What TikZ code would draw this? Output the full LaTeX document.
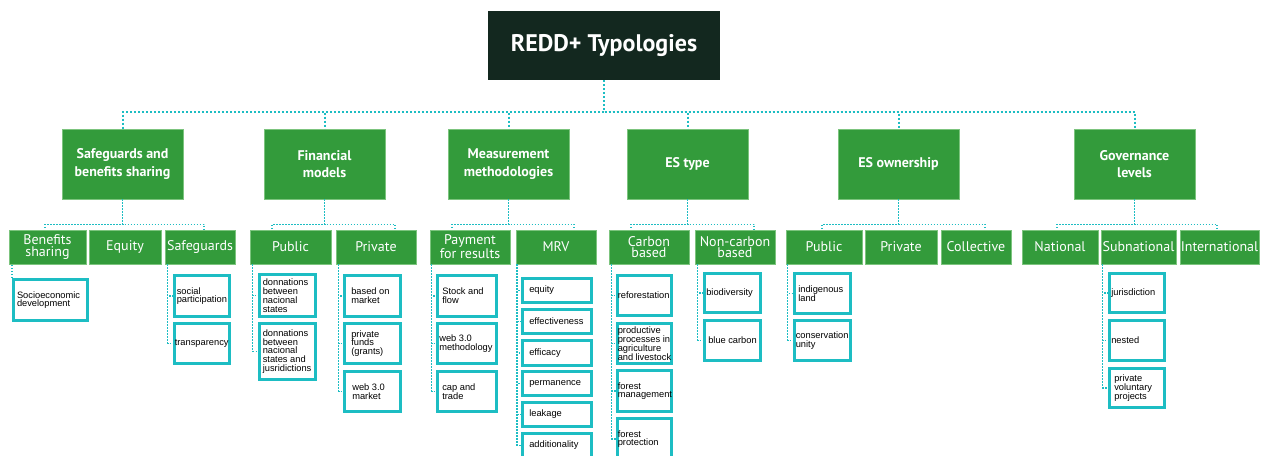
\documentclass[tikz,border=0pt]{standalone}
\usepackage{fontspec}
\setmainfont{Liberation Sans}
\newfontfamily\headfont{PT Sans}
\usetikzlibrary{calc}

\definecolor{rootbg}{HTML}{13281F}
\definecolor{catgreen}{HTML}{339B3B}
\definecolor{edgegreen}{HTML}{7CC47E}
\definecolor{linkteal}{HTML}{1DBDC3}

\tikzset{
  rootbox/.style={fill=rootbg, text=white, inner sep=0pt,
    font=\headfont\bfseries\fontsize{24}{28}\selectfont},
  catbox/.style={fill=catgreen, draw=edgegreen, line width=0.6pt, text=white,
    align=center, inner sep=0pt,
    font=\headfont\bfseries\fontsize{14}{17.3}\selectfont},
  subbox/.style={fill=catgreen, draw=edgegreen, line width=0.6pt, text=white,
    align=center, inner sep=0pt,
    font=\headfont\fontsize{14}{11.5}\selectfont},
  leaf/.style={draw=linkteal, line width=2.6pt, fill=white, align=flush left,
    inner ysep=0pt, font=\fontsize{9.3}{8.8}\selectfont},
  bus/.style={draw=linkteal, line width=2pt, dash pattern=on 2pt off 2pt},
  sub/.style={draw=linkteal, line width=1.5pt, dash pattern=on 1.5pt off 1.5pt},
}

% centred block of lines, moved down by #1
\newcommand\lowered[2]{\raisebox{-#1}{\parbox{116pt}{\centering #2}}}

% box from its outer corners: style, name, x1, y1, x2, y2, text
\newcommand\cornerbox[7]{%
  \pgfmathsetmacro\bxw{#5-#3}%
  \pgfmathsetmacro\bxh{#6-#4}%
  \pgfmathsetmacro\bxx{(#3+#5)/2}%
  \pgfmathsetmacro\bxy{(#4+#6)/2}%
  \node[#1, minimum width=\bxw pt, minimum height=\bxh pt] (#2) at (\bxx,\bxy) {#7};%
}
% framed leaf with left-aligned text: name, x1, y1, x2, y2, left padding, text
\newcommand\leafnode[7]{%
  \pgfmathsetmacro\lfw{#4-#2-2.6-2*#6}%
  \pgfmathsetmacro\lfh{#5-#3-2.6}%
  \pgfmathsetmacro\lfx{(#2+#4)/2}%
  \pgfmathsetmacro\lfy{(#3+#5)/2}%
  \node[leaf, text width=\lfw pt, inner xsep=#6pt, minimum height=\lfh pt] (#1) at (\lfx,\lfy) {#7};%
}

\begin{document}
\begin{tikzpicture}[x=1pt, y=-1pt]
\useasboundingbox (0,0) rectangle (1263,455);
\clip (0,0) rectangle (1263,455);

% root
\cornerbox{rootbox}{root}{488}{11}{720}{80}{\raisebox{-5pt}{REDD+ Typologies}}

% categories
\cornerbox{catbox}{sg}{62}{129}{183}{199}{\lowered{3pt}{Safeguards and\\benefits sharing}}
\cornerbox{catbox}{fm}{264}{129}{385}{199}{\lowered{4pt}{Financial\\models}}
\cornerbox{catbox}{mm}{448}{129}{569}{199}{\lowered{4pt}{Measurement\\methodologies}}
\cornerbox{catbox}{est}{627}{129}{748}{199}{ES type}
\cornerbox{catbox}{eso}{838}{129}{959}{199}{\raisebox{4pt}{ES ownership}}
\cornerbox{catbox}{gov}{1074}{129}{1195}{199}{\lowered{4pt}{Governance\\levels}}

% sub-categories
\cornerbox{subbox}{ben}{9}{230}{86}{264}{Benefits\\sharing}
\cornerbox{subbox}{equ}{89}{230}{161}{264}{\raisebox{-2pt}{Equity}}
\cornerbox{subbox}{safe}{165}{230}{235}{264}{\raisebox{-2pt}{Safeguards}}
\cornerbox{subbox}{pubf}{250}{230}{331}{264}{\raisebox{-2pt}{Public}}
\cornerbox{subbox}{privf}{336}{230}{416}{264}{\raisebox{-2pt}{Private}}
\cornerbox{subbox}{pay}{430}{230}{510}{264}{Payment\\for results}
\cornerbox{subbox}{mrv}{516}{230}{596}{264}{\raisebox{-2pt}{MRV}}
\cornerbox{subbox}{carb}{609}{230}{689}{264}{Carbon\\based}
\cornerbox{subbox}{ncarb}{695}{230}{775}{264}{Non-carbon\\based}
\cornerbox{subbox}{pubo}{786}{230}{862}{264}{\raisebox{-2pt}{Public}}
\cornerbox{subbox}{privo}{865}{230}{937}{264}{\raisebox{-2pt}{Private}}
\cornerbox{subbox}{coll}{941}{230}{1011}{264}{\raisebox{-2pt}{Collective}}
\cornerbox{subbox}{nat}{1022}{230}{1098}{264}{\raisebox{-2pt}{National}}
\cornerbox{subbox}{subn}{1101}{230}{1176}{264}{\raisebox{-2pt}{Subnational}}
\cornerbox{subbox}{intl}{1180}{230}{1259}{264}{\raisebox{-2pt}{International}}

% leaves (~ keeps each printed line whole)
\leafnode{soc}{12}{278}{89}{322}{3.7}{Socioeconomic\\development}
\leafnode{spart}{173}{274}{231}{318}{2.5}{social\\participation}
\leafnode{transp}{173}{322}{231}{365}{0.5}{transparency}

\leafnode{don1}{258}{273}{317}{318}{3.5}{donnations\\between\\nacional\\states}
\leafnode{don2}{258}{322}{317}{381}{3.5}{donnations\\between\\nacional\\states~and\\jusridictions}
\leafnode{mkt}{343}{274}{402}{318}{7}{based~on\\market}
\leafnode{funds}{343}{322}{402}{365}{7}{private\\funds\\(grants)}
\leafnode{webm}{343}{370}{402}{413}{8}{web~3.0\\market}

\leafnode{stock}{436}{274}{498}{318}{5}{Stock~and\\flow}
\leafnode{webme}{436}{322}{498}{365}{2}{web~3.0\\methodology}
\leafnode{cap}{436}{370}{498}{413}{5}{cap~and\\trade}
\leafnode{equi}{521}{277}{593}{304}{7}{equity}
\leafnode{effe}{521}{308}{593}{335}{7}{effectiveness}
\leafnode{effi}{521}{339}{593}{367}{7}{efficacy}
\leafnode{perm}{521}{370}{593}{397}{7}{permanence}
\leafnode{leak}{521}{401}{593}{428}{7}{leakage}
\leafnode{addi}{521}{432}{593}{459}{7}{additionality}

\leafnode{refo}{616}{274}{673}{317}{0.5}{reforestation}
\leafnode{prod}{616}{322}{673}{365}{0.5}{productive\\processes~in\\agriculture\\and~livestock}
\leafnode{fman}{616}{369}{673}{413}{0.5}{forest\\management}
\leafnode{fpro}{616}{417}{673}{461}{0.5}{forest\\protection}
\leafnode{bio}{703}{272}{762}{314}{2}{biodiversity}
\leafnode{blue}{703}{319}{762}{362}{4}{blue~carbon}

\leafnode{indi}{793}{272}{852}{315}{4}{indigenous\\land}
\leafnode{cons}{793}{319}{852}{362}{1.5}{conservation\\unity}

\leafnode{juri}{1108}{272}{1166}{314}{2}{jurisdiction}
\leafnode{nest}{1108}{319}{1166}{362}{2}{nested}
\leafnode{pvol}{1108}{367}{1166}{409}{5}{private\\voluntary\\projects}

% root to categories
\foreach \c in {sg,fm,mm,est,eso,gov}
  \draw[bus] (root.south) |- ($(\c.north)+(0,-17)$) -- (\c.north);

% categories to sub-categories
\draw[sub] (sg.south) -- ++(0,25) -| ($(ben.north)+(-2.5,0)$);
\draw[sub] (sg.south) -- ++(0,25) -| ($(safe.north)+(4,0)$);
\draw[sub] (fm.south) -- ++(0,25) -| ($(pubf.north)+(-18.5,0)$);
\draw[sub] (fm.south) -- ++(0,25) -| ($(privf.north)+(19,0)$);
\draw[sub] (mm.south) -- ++(0,25) -| ($(pay.north)+(-18,0)$);
\draw[sub] (mm.south) -- ++(0,25) -| ($(mrv.north)+(18,0)$);
\draw[sub] (est.south) -- ++(0,25) -| ($(carb.north)+(-18,0)$);
\draw[sub] (est.south) -- ++(0,25) -| ($(ncarb.north)+(19,0)$);
\draw[sub] (eso.south) -- ++(0,25) -| ($(pubo.north)+(-2,0)$);
\draw[sub] (eso.south) -- ++(0,25) -| ($(coll.north)+(9,0)$);
\draw[sub] (gov.south) -- ++(0,25) -| ($(nat.north)+(-3,0)$);
\draw[sub] (gov.south) -- ++(0,25) -| ($(intl.north)+(-2.5,0)$);

% sub-categories to leaves
\draw[sub] (soc.north west) -- (soc.north west |- ben.south);
\foreach \l in {spart,transp}
  \draw[sub] ($(safe.south west)+(3,0)$) |- (\l.west);
\foreach \l in {don1,don2}
  \draw[sub] ($(pubf.south west)+(3,0)$) |- (\l.west);
\foreach \l in {mkt,funds,webm}
  \draw[sub] ($(privf.south west)+(3,0)$) |- (\l.west);
\foreach \l in {stock,webme,cap}
  \draw[sub] ($(pay.south west)+(2,0)$) |- (\l.west);
\foreach \l in {equi,effe,effi,perm,leak,addi}
  \draw[sub] ($(mrv.south west)+(1.5,0)$) |- (\l.west);
\foreach \l in {refo,prod,fman,fpro}
  \draw[sub] ($(carb.south west)+(3,0)$) |- (\l.west);
\foreach \l in {bio,blue}
  \draw[sub] ($(ncarb.south west)+(3,0)$) |- (\l.west);
\foreach \l in {indi,cons}
  \draw[sub] ($(pubo.south west)+(2,0)$) |- (\l.west);
\foreach \l in {juri,nest,pvol}
  \draw[sub] ($(subn.south west)+(2,0)$) |- (\l.west);
\end{tikzpicture}
\end{document}
